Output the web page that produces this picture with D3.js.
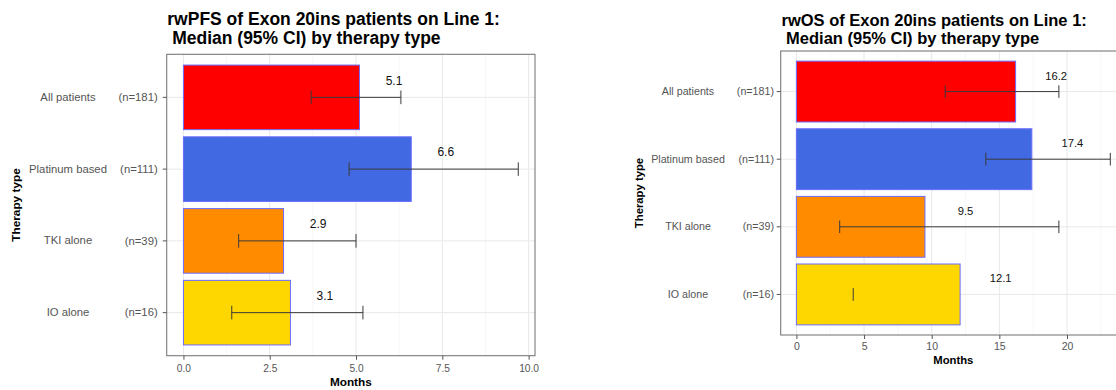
<!DOCTYPE html>
<html>
<head>
<meta charset="utf-8">
<script src="https://cdn.jsdelivr.net/npm/d3@7"></script>
<style>
  html, body { margin: 0; padding: 0; background: #fff; }
  svg { display: block; font-family: "Liberation Sans", Arial, sans-serif; }
</style>
</head>
<body>
<svg id="chart" width="1116" height="390"></svg>
<script>
// ---------- data ----------
const categories = ["All patients", "Platinum based", "TKI alone", "IO alone"];
const nLabels = ["(n=181)", "(n=111)", "(n=39)", "(n=16)"];

const pfsMedian = [5.1, 6.6, 2.9, 3.1];
const pfsLow    = [3.7, 4.8, 1.6, 1.4];
const pfsHigh   = [6.3, 9.7, 5.0, 5.2];
const pfsTicks  = [0, 2.5, 5, 7.5, 10];

const osMedian = [16.2, 17.4, 9.5, 12.1];
const osLow    = [11.0, 14.0, 3.2, 4.2];
const osHigh   = [19.4, 23.2, 19.4, null];
const osTicks  = [0, 5, 10, 15, 20];

const pfsTitle = ["rwPFS of Exon 20ins patients on Line 1:", "Median (95% CI) by therapy type"];
const osTitle  = ["rwOS of Exon 20ins patients on Line 1:", "Median (95% CI) by therapy type"];

// ---------- styles ----------
const barColors = ["#FF0000", "#4169E1", "#FF8C00", "#FFD700"];

const svg = d3.select("#chart");

function drawChart(cfg) {
  const g = svg.append("g");
  const rows = categories.map((c, i) => ({
    cat: c, n: nLabels[i], med: cfg.median[i], lo: cfg.low[i], hi: cfg.high[i], color: barColors[i]
  }));

  const maxV = d3.max(rows, d => Math.max(d.med, d.hi == null ? 0 : d.hi));
  const pad = maxV * 0.05;
  const x = d3.scaleLinear().domain([-pad, maxV + pad]).range([cfg.px0, cfg.px1]);
  const y = d3.scaleBand().domain(categories).range([cfg.py0, cfg.py1])
    .paddingInner(0.1).paddingOuter(0.15);

  // grid: minor
  const minor = [];
  for (let i = 0; i < cfg.ticks.length - 1; i++) minor.push((cfg.ticks[i] + cfg.ticks[i + 1]) / 2);
  const last = cfg.ticks[cfg.ticks.length - 1], dt = cfg.ticks[1] - cfg.ticks[0];
  if (last + dt / 2 < maxV + pad) minor.push(last + dt / 2);
  g.selectAll(".minor").data(minor).join("line")
    .attr("x1", d => x(d)).attr("x2", d => x(d))
    .attr("y1", cfg.py0).attr("y2", cfg.py1)
    .attr("stroke", "#f2f2f2").attr("stroke-width", 0.6);
  // grid: major
  g.selectAll(".majorx").data(cfg.ticks).join("line")
    .attr("x1", d => x(d)).attr("x2", d => x(d))
    .attr("y1", cfg.py0).attr("y2", cfg.py1)
    .attr("stroke", "#e8e8e8").attr("stroke-width", 1);
  g.selectAll(".majory").data(categories).join("line")
    .attr("x1", cfg.px0).attr("x2", cfg.px1)
    .attr("y1", d => y(d) + y.bandwidth() / 2).attr("y2", d => y(d) + y.bandwidth() / 2)
    .attr("stroke", "#e8e8e8").attr("stroke-width", 1);

  // bars
  g.selectAll(".bar").data(rows).join("rect")
    .attr("x", x(0)).attr("y", d => y(d.cat))
    .attr("width", d => x(d.med) - x(0)).attr("height", y.bandwidth())
    .attr("fill", d => d.color)
    .attr("stroke", "#6b6bff").attr("stroke-width", 1);

  // error bars
  const cap = cfg.cap;
  rows.forEach(d => {
    const cy = y(d.cat) + y.bandwidth() / 2;
    if (d.lo != null && d.hi != null) {
      g.append("line").attr("x1", x(d.lo)).attr("x2", x(d.hi)).attr("y1", cy).attr("y2", cy)
        .attr("stroke", "#3a3a3a").attr("stroke-width", 1);
    }
    [d.lo, d.hi].forEach(v => {
      if (v == null) return;
      g.append("line").attr("x1", x(v)).attr("x2", x(v)).attr("y1", cy - cap).attr("y2", cy + cap)
        .attr("stroke", "#3a3a3a").attr("stroke-width", 1);
    });
  });

  // value labels
  g.selectAll(".val").data(rows).join("text")
    .attr("x", d => x(d.med + cfg.nudge))
    .attr("y", d => y(d.cat) + y.bandwidth() / 2 + cfg.valDy)
    .attr("text-anchor", "middle")
    .attr("font-size", cfg.valFont).attr("fill", "#111")
    .text(d => d.med.toFixed(1));

  // panel border
  g.append("rect").attr("x", cfg.px0).attr("y", cfg.py0)
    .attr("width", cfg.px1 - cfg.px0).attr("height", cfg.py1 - cfg.py0)
    .attr("fill", "none").attr("stroke", "#7a7a7a").attr("stroke-width", 1.1);

  // x axis
  const xAxis = g.append("g").attr("transform", `translate(0,${cfg.py1})`)
    .call(d3.axisBottom(x).tickValues(cfg.ticks).tickFormat(cfg.fmt).tickSize(4).tickPadding(cfg.xPad));
  xAxis.select(".domain").remove();
  xAxis.selectAll(".tick line").attr("stroke", "#555");
  xAxis.selectAll(".tick text").attr("fill", "#555").attr("font-size", cfg.xFont)
    .attr("font-family", "Liberation Sans, Arial, sans-serif");

  // y axis (n labels)
  const yAxis = g.append("g").attr("transform", `translate(${cfg.px0},0)`)
    .call(d3.axisLeft(y).tickSize(4).tickPadding(cfg.yPad).tickFormat((d, i) => nLabels[i]));
  yAxis.select(".domain").remove();
  yAxis.selectAll(".tick line").attr("stroke", "#555");
  yAxis.selectAll(".tick text").attr("fill", "#555").attr("font-size", cfg.yFont)
    .attr("font-family", "Liberation Sans, Arial, sans-serif");

  // category names
  g.selectAll(".cat").data(categories).join("text")
    .attr("x", cfg.nameX).attr("y", d => y(d) + y.bandwidth() / 2)
    .attr("dy", "0.32em").attr("text-anchor", "middle")
    .attr("font-size", cfg.yFont).attr("fill", "#555")
    .text(d => d);

  // axis titles
  g.append("text").attr("x", (cfg.px0 + cfg.px1) / 2).attr("y", cfg.monthsY)
    .attr("text-anchor", "middle").attr("font-weight", "bold").attr("font-size", cfg.axTitleFont)
    .attr("fill", "#000").text("Months");
  g.append("text")
    .attr("transform", `translate(${cfg.yTitleX},${(cfg.py0 + cfg.py1) / 2}) rotate(-90)`)
    .attr("text-anchor", "middle").attr("font-weight", "bold").attr("font-size", cfg.axTitleFont)
    .attr("fill", "#000").text("Therapy type");

  // title (two lines)
  [0, 1].forEach(k => {
    g.append("text").attr("font-weight", "bold").attr("font-size", cfg.titleFont).attr("fill", "#000")
      .attr("x", cfg.titleX + (k ? cfg.titleFont * 0.278 : 0))
      .attr("y", k ? cfg.titleY2 : cfg.titleY1)
      .text(cfg.title[k]);
  });
}

drawChart({
  median: pfsMedian, low: pfsLow, high: pfsHigh, ticks: pfsTicks, fmt: d3.format(".1f"),
  title: pfsTitle,
  px0: 166.7, px1: 535, py0: 54.3, py1: 355.7,
  titleX: 167.3, titleY1: 24.5, titleY2: 43.5, titleFont: 17.5,
  yFont: 11.3, xFont: 10.2, xPad: 4.6, yPad: 5,
  nameX: 68, yTitleX: 19.5, monthsY: 386, axTitleFont: 11.8,
  valFont: 12, valDy: -12.8, nudge: 1.0, cap: 6.8
});

drawChart({
  median: osMedian, low: osLow, high: osHigh, ticks: osTicks, fmt: d3.format("d"),
  title: osTitle,
  px0: 780.7, px1: 1126, py0: 51, py1: 335,
  titleX: 781.5, titleY1: 25.5, titleY2: 44, titleFont: 16.5,
  yFont: 10.7, xFont: 10.5, xPad: 3.3, yPad: 2.7,
  nameX: 688, yTitleX: 643, monthsY: 364, axTitleFont: 11.3,
  valFont: 11.2, valDy: -12, nudge: 3.0, cap: 6.3
});
</script>
</body>
</html>
